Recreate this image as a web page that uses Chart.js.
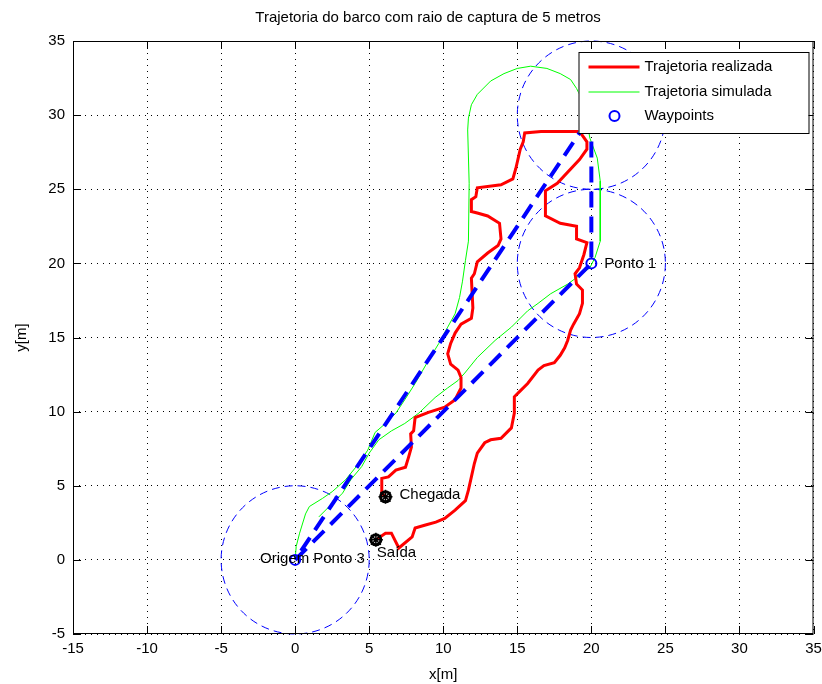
<!DOCTYPE html>
<html lang="pt">
<head>
<meta charset="UTF-8">
<title>Trajetoria do barco</title>
<script src="https://cdn.jsdelivr.net/npm/chart.js"></script>
<style>
  body { margin: 0; background: #fff; }
  #wrap { width: 822px; height: 684px; }
</style>
</head>
<body>
<div id="wrap"><canvas id="trajChart" width="822" height="684"></canvas></div>
<script>
// Trajetoria realizada (barco real), from Saida to Chegada
const realizadaX = [5.45, 6.1, 6.5, 7.0, 7.9, 8.1, 8.8, 9.5, 10.1, 10.8, 11.5, 11.7, 11.9, 12.1, 12.3, 12.8, 13.2, 13.9, 14.6, 14.8,
  14.8, 15.2, 15.7, 16.4, 16.8, 17.5, 17.9, 18.2, 18.4, 18.6, 18.8, 19.2, 19.4, 19.4, 19.0, 18.9, 19.2, 19.5, 19.7, 19.0,
  19.0, 17.9, 16.9, 16.9, 17.7, 19.2, 19.7, 19.7, 19.2, 16.6, 15.5, 15.4, 15.2, 14.9, 14.7, 13.9, 12.3, 12.2, 11.9, 11.9,
  12.3, 13.0, 13.8, 13.9, 13.7, 13.0, 12.3, 12.1, 11.9, 12.0, 11.9, 11.2, 10.8, 10.5, 10.3, 10.5, 11.0, 11.2, 11.2, 10.8,
  10.1, 9.0, 8.1, 8.0, 7.8, 7.85, 7.65, 7.45, 6.8, 6.3, 5.85, 5.85, 6.1];
const realizadaY = [1.35, 1.8, 1.8, 0.8, 1.55, 2.15, 2.35, 2.55, 2.8, 3.35, 4.0, 4.7, 5.6, 6.5, 7.2, 7.9, 8.1, 8.2, 8.9, 9.9,
  11.0, 11.4, 11.9, 12.8, 13.1, 13.3, 13.8, 14.3, 14.8, 15.5, 15.9, 16.6, 17.3, 18.2, 18.6, 19.3, 19.7, 20.6, 21.4, 21.65,
  22.5, 22.7, 23.2, 24.9, 25.4, 27.0, 27.7, 28.2, 28.9, 28.9, 28.8, 28.2, 27.7, 26.4, 25.7, 25.3, 25.1, 24.5, 24.3, 23.5,
  23.4, 23.2, 22.7, 21.65, 21.2, 20.7, 20.1, 19.3, 19.0, 17.0, 16.3, 15.9, 15.3, 14.6, 13.9, 13.2, 12.8, 12.3, 11.6, 10.8,
  10.3, 9.95, 9.6, 8.7, 8.5, 7.6, 6.9, 6.25, 6.05, 5.6, 5.5, 4.5, 4.25];

// Trajetoria simulada
const simuladaX = [0, 0.07, 0.3, 0.7, 0.96, 1.85, 2.5, 3.4, 4.3, 4.9, 5.4, 6.1, 6.8, 7.4, 8.1, 9.0, 9.7, 10.3, 10.8, 11.1,
  11.3, 11.5, 11.7, 11.75, 11.65, 11.7, 11.9, 12.3, 13.2, 14.1, 15.0, 15.9, 17.0, 17.9, 18.6, 19.0, 19.5, 19.9, 20.4, 20.6,
  20.6, 20.25, 19.9, 18.4, 17.25, 16.4, 15.7, 14.6, 13.5, 12.3, 11.45, 11.0, 10.3, 9.45, 8.35, 7.4, 6.5, 5.65, 5.0, 4.5,
  3.75, 3.2, 2.3, 1.6];
const simuladaY = [0, 0.9, 1.8, 3.1, 3.6, 4.15, 4.6, 5.4, 6.5, 7.4, 8.6, 9.2, 9.9, 10.8, 11.9, 13.45, 14.6, 15.7, 16.6, 17.7,
  18.8, 20.2, 21.5, 25.4, 29.0, 29.8, 30.7, 31.4, 32.3, 32.8, 33.15, 33.3, 33.15, 32.8, 32.4, 31.8, 30.8, 28.45, 27.1, 25.55,
  21.5, 20.4, 19.7, 18.6, 17.95, 17.3, 16.8, 15.7, 14.8, 13.65, 12.6, 12.1, 11.6, 10.95, 9.9, 9.2, 8.7, 8.1, 7.2, 6.3,
  5.4, 4.5, 3.6, 2.9];

// Waypoints and planned route (Ponto 3 -> Ponto 1 -> Ponto 2 -> Ponto 3)
const waypointX = [0, 20, 20];
const waypointY = [0, 20, 30];
const rotaX = [0, 20, 20, 0];
const rotaY = [0, 20, 30, 0];
const raioCaptura = 5;

// Saida / Chegada of the real boat
const marcoX = [5.45, 6.1];
const marcoY = [1.35, 4.25];

// Text annotations
const rotuloTexto = ['Origem', 'Ponto 3', 'Ponto 1', 'Chegada', 'Saída'];
const rotuloX = [0, 0, 20, 6.1, 5.45];
const rotuloY = [0, 0, 20, 4.25, 1.35];

// Axis ticks
const xMin = -15, xMax = 35, yMin = -5, yMax = 35, passo = 5;

const FONT = "'Liberation Sans', Arial, sans-serif";

function pontos(xs, ys) {
  return xs.map((x, i) => ({ x: x, y: ys[i] }));
}

// circles, axes box, inner ticks, text labels, legend and title
const matlabPlugin = {
  id: 'matlabStyle',
  beforeDraw(chart) {
    const ctx = chart.ctx;
    ctx.save();
    ctx.fillStyle = '#fff';
    ctx.fillRect(0, 0, chart.width, chart.height);
    ctx.restore();
  },
  beforeDatasetsDraw(chart) {
    const { ctx, chartArea, scales } = chart;
    ctx.save();
    ctx.beginPath();
    ctx.rect(chartArea.left, chartArea.top - 1, chartArea.right - chartArea.left, chartArea.bottom - chartArea.top + 2);
    ctx.clip();
    ctx.strokeStyle = '#0000ff';
    ctx.lineWidth = 1;
    ctx.setLineDash([8, 5]);
    waypointX.forEach((wx, i) => {
      const cx = scales.x.getPixelForValue(wx);
      const cy = scales.y.getPixelForValue(waypointY[i]);
      const rx = scales.x.getPixelForValue(wx + raioCaptura) - cx;
      const ry = cy - scales.y.getPixelForValue(waypointY[i] + raioCaptura);
      ctx.beginPath();
      ctx.ellipse(cx, cy, rx, ry, 0, 0, Math.PI * 2);
      ctx.stroke();
    });
    ctx.restore();
  },
  afterDatasetsDraw(chart) {
    const { ctx, chartArea, scales } = chart;
    ctx.save();

    // text labels
    ctx.fillStyle = '#000';
    ctx.font = '15px ' + FONT;
    ctx.textBaseline = 'middle';
    rotuloTexto.forEach((t, i) => {
      const px = scales.x.getPixelForValue(rotuloX[i]);
      const py = scales.y.getPixelForValue(rotuloY[i]);
      if (t === 'Origem') {
        ctx.textAlign = 'right';
        ctx.fillText(t, px + 14, py - 1);
      } else if (t === 'Saída') {
        ctx.textAlign = 'left';
        ctx.fillText(t, px + 1, py + 13);
      } else if (t === 'Chegada') {
        ctx.textAlign = 'left';
        ctx.fillText(t, px + 14, py - 2);
      } else if (t === 'Ponto 3') {
        ctx.textAlign = 'left';
        ctx.fillText(t, px + 18, py - 1);
      } else {
        ctx.textAlign = 'left';
        ctx.fillText(t, px + 13, py);
      }
    });

    // axes box
    const L = chartArea.left, R = chartArea.right, T = chartArea.top, B = chartArea.bottom;
    ctx.strokeStyle = '#000';
    ctx.lineWidth = 1;
    ctx.setLineDash([]);
    ctx.strokeRect(L + 0.5, T + 0.5, R - L - 1, B - T - 1);

    // inner ticks on all four sides
    const tl = 8;
    ctx.beginPath();
    scales.x.ticks.forEach(tk => {
      const px = Math.round(scales.x.getPixelForValue(tk.value)) + 0.5;
      ctx.moveTo(px, B); ctx.lineTo(px, B - tl);
      ctx.moveTo(px, T); ctx.lineTo(px, T + tl);
    });
    scales.y.ticks.forEach(tk => {
      const py = Math.round(scales.y.getPixelForValue(tk.value)) + 0.5;
      ctx.moveTo(L, py); ctx.lineTo(L + tl, py);
      ctx.moveTo(R, py); ctx.lineTo(R - tl, py);
    });
    ctx.stroke();

    // legend box
    const w = 230, h = 81;
    const bx = R - 5 - w, by = T + 11;
    ctx.fillStyle = '#fff';
    ctx.fillRect(bx, by, w, h);
    ctx.strokeRect(bx + 0.5, by + 0.5, w, h);
    const ds = chart.data.datasets;
    const itens = [ds[3], ds[4], ds[2]];
    const rows = [by + 15, by + 40, by + 64];
    ctx.font = '15px ' + FONT;
    ctx.textAlign = 'left';
    ctx.textBaseline = 'middle';
    itens.forEach((d, i) => {
      const yy = rows[i];
      ctx.strokeStyle = d.borderColor;
      ctx.lineWidth = d.borderWidth;
      ctx.beginPath();
      if (d.showLine) {
        ctx.moveTo(bx + 10, yy);
        ctx.lineTo(bx + 61, yy);
      } else {
        ctx.arc(bx + 36, yy, d.pointRadius, 0, Math.PI * 2);
      }
      ctx.stroke();
      ctx.fillStyle = '#000';
      ctx.fillText(d.label, bx + 66, yy);
    });
    ctx.restore();
  },
  afterDraw(chart) {
    const ctx = chart.ctx;
    ctx.save();
    ctx.fillStyle = '#000';
    ctx.font = '15px ' + FONT;
    ctx.textAlign = 'center';
    ctx.textBaseline = 'middle';
    ctx.fillText('Trajetoria do barco com raio de captura de 5 metros', 428, 18);
    ctx.restore();
  }
};

const ctx = document.getElementById('trajChart').getContext('2d');
new Chart(ctx, {
  type: 'scatter',
  data: {
    datasets: [
      {
        label: 'Saida/Chegada',
        data: pontos(marcoX, marcoY),
        pointStyle: 'circle',
        pointRadius: 5,
        borderColor: '#000',
        backgroundColor: 'rgba(0,0,0,0)',
        borderWidth: 3,
        showLine: false
      },
      {
        label: 'Saida/Chegada estrela',
        data: pontos(marcoX, marcoY),
        pointStyle: 'star',
        pointRadius: 7,
        borderColor: '#000',
        borderWidth: 1.5,
        showLine: false
      },
      {
        label: 'Waypoints',
        data: pontos(waypointX, waypointY),
        pointStyle: 'circle',
        pointRadius: 5,
        borderColor: '#0000ff',
        backgroundColor: 'rgba(0,0,0,0)',
        borderWidth: 2,
        showLine: false
      },
      {
        label: 'Trajetoria realizada',
        data: pontos(realizadaX, realizadaY),
        showLine: true,
        borderColor: '#ff0000',
        borderWidth: 3,
        pointRadius: 0,
        tension: 0
      },
      {
        label: 'Trajetoria simulada',
        data: pontos(simuladaX, simuladaY),
        showLine: true,
        borderColor: '#00ff00',
        borderWidth: 1,
        pointRadius: 0,
        tension: 0
      },
      {
        label: 'Rota',
        data: pontos(rotaX, rotaY),
        showLine: true,
        borderColor: '#0000ff',
        borderWidth: 4,
        borderDash: [16, 9],
        pointRadius: 0,
        tension: 0,
        order: -1
      }
    ]
  },
  options: {
    responsive: false,
    animation: false,
    layout: { padding: { top: 41, right: 5, left: 0, bottom: 0 } },
    plugins: {
      legend: { display: false },
      tooltip: { enabled: false },
      title: { display: false }
    },
    scales: {
      x: {
        type: 'linear',
        min: xMin,
        max: xMax,
        ticks: { stepSize: passo, color: '#000', padding: 6, font: { family: FONT, size: 15 } },
        grid: { color: '#000', drawTicks: false, lineWidth: 1 },
        border: { display: false, dash: [1, 5] },
        title: { display: true, text: 'x[m]', color: '#000', padding: { top: 0, bottom: 0 }, font: { family: FONT, size: 15 } },
        afterFit: s => { s.height = 50; s.paddingLeft = 0; s.paddingRight = 0; }
      },
      y: {
        type: 'linear',
        min: yMin,
        max: yMax,
        ticks: { stepSize: passo, color: '#000', padding: 8, font: { family: FONT, size: 15 } },
        grid: { color: '#000', drawTicks: false, lineWidth: 1 },
        border: { display: false, dash: [1, 5] },
        title: { display: true, text: 'y[m]', color: '#000', padding: { top: 13, bottom: 0 }, font: { family: FONT, size: 15 } },
        afterFit: s => { s.width = 73; s.paddingTop = 0; s.paddingBottom = 0; }
      }
    }
  },
  plugins: [matlabPlugin]
});
</script>
</body>
</html>
